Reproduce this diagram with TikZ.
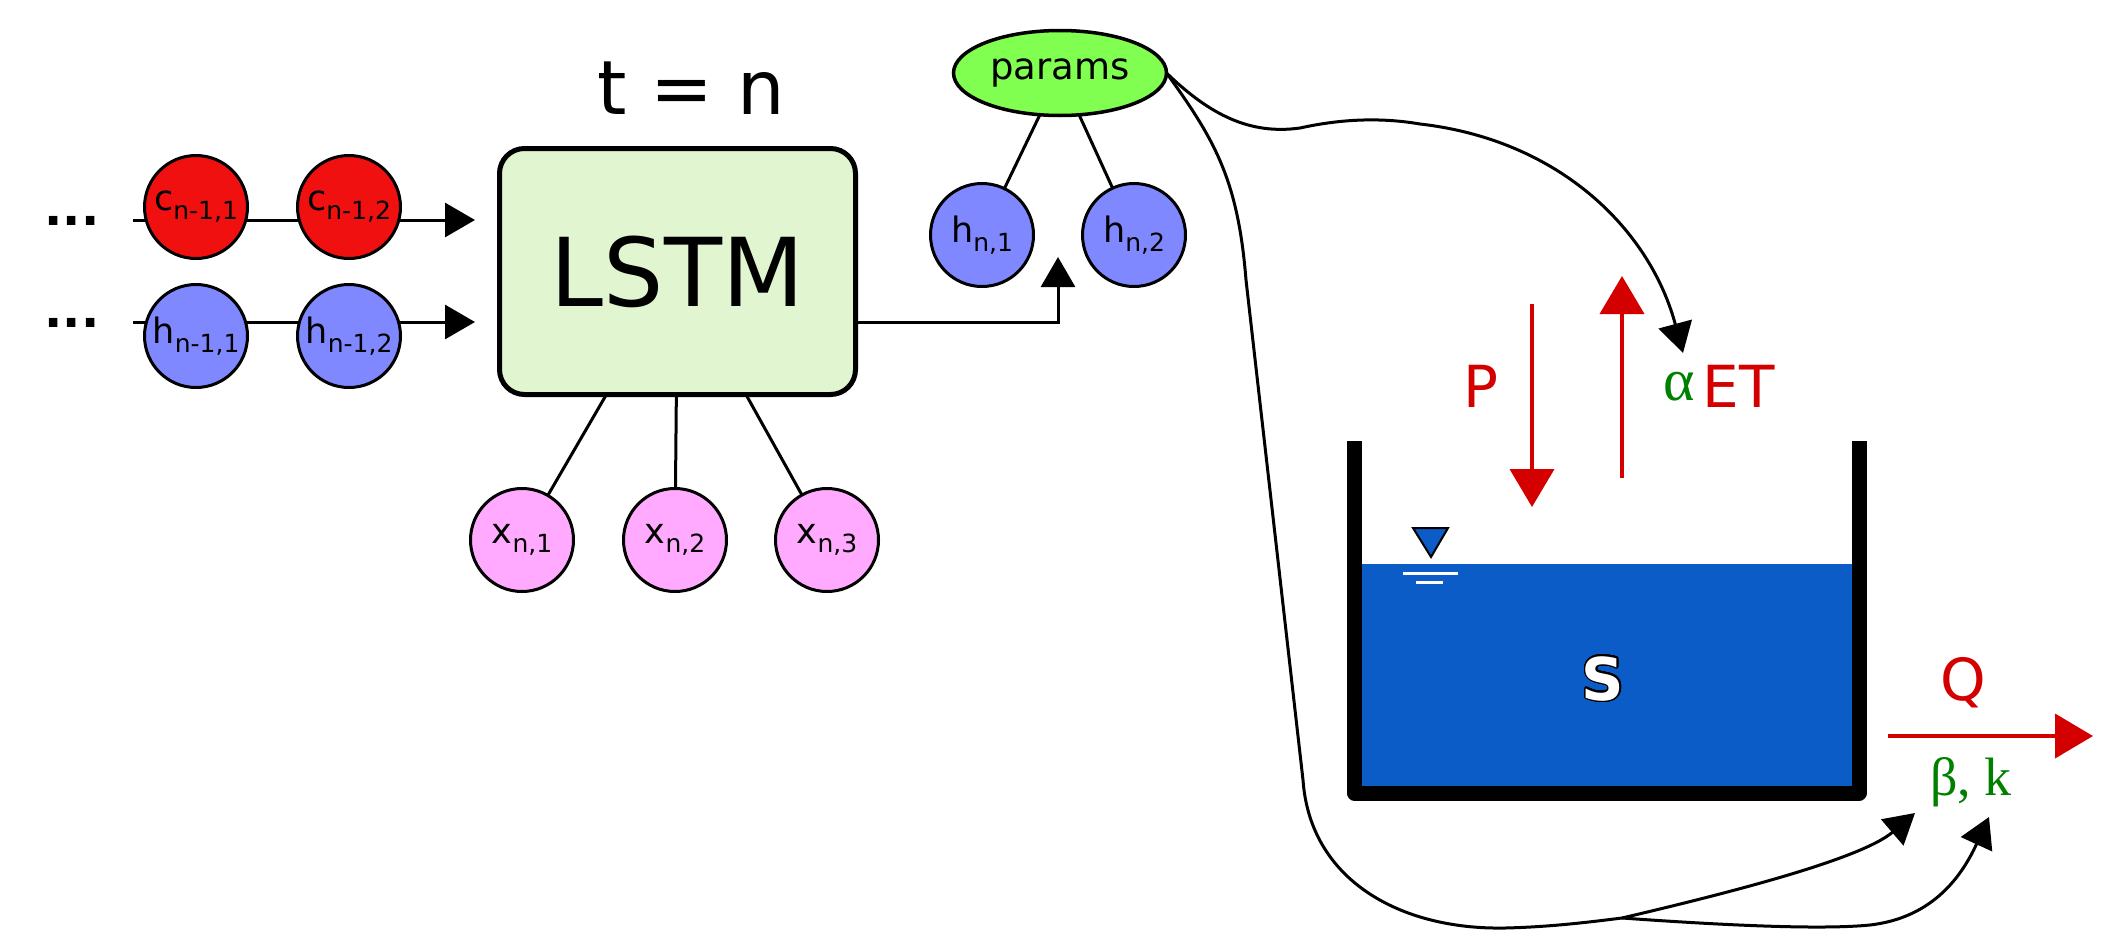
\documentclass[tikz,border=0pt]{standalone}
\usepackage{fontspec}
\setmainfont{DejaVu Sans}
\newfontfamily\serifgr{Liberation Serif}
\usepackage{contour}
\contourlength{1.3pt}
\contournumber{32}
\usetikzlibrary{arrows.meta,shapes.geometric}
\definecolor{cred}{HTML}{F01010}
\definecolor{hblue}{HTML}{8088FF}
\definecolor{xpink}{HTML}{FFAAFF}
\definecolor{pgreen}{HTML}{80FF50}
\definecolor{lstmfill}{HTML}{E0F5D0}
\definecolor{water}{HTML}{0B5CC7}
\definecolor{fluxred}{HTML}{D40000}
\definecolor{pargreen}{HTML}{008000}
\newcommand\lsub[1]{{\fontsize{25}{25}\selectfont\raisebox{-9pt}{#1}}}
\begin{document}
\begin{tikzpicture}[x=1pt,y=-1pt,
  every node/.style={inner sep=0pt, outer sep=0pt},
  unit/.style={circle, draw=black, line width=3pt, minimum size=103pt, font=\fontsize{35}{35}\selectfont},
  cnode/.style={unit, fill=cred},
  hnode/.style={unit, fill=hblue},
  xnode/.style={unit, fill=xpink},
  link/.style={draw=black, line width=3pt},
  arr/.style={link, -{Triangle[length=30pt,width=34pt]}},
  flux/.style={draw=fluxred, line width=4pt, -{Triangle[length=38pt,width=44pt]}},
  fluxtext/.style={text=fluxred, font=\fontsize{58}{58}\selectfont, anchor=base},
  partext/.style={text=pargreen, font=\serifgr\fontsize{54}{54}\selectfont, anchor=base},
  dotstext/.style={font=\bfseries\fontsize{48}{48}\selectfont, anchor=base},
]
\useasboundingbox (0,0) rectangle (2101,945);

% ---- recurrent inputs ----
\coordinate (cstart) at (133,220);
\coordinate (cend) at (475,220);
\coordinate (hstart) at (133,322);
\coordinate (hend) at (475,322);
\draw[arr] (cstart) -- (cend);
\draw[arr] (hstart) -- (hend);
\node[dotstext] (dotsc) at (72,225) {...};
\node[dotstext] (dotsh) at (72,327) {...};
\node[cnode] (c1) at (196,207) {c\lsub{n-1,1}};
\node[cnode] (c2) at (349,207) {c\lsub{n-1,2}};
\node[hnode] (h1) at (196,336) {h\lsub{n-1,1}};
\node[hnode] (h2) at (349,336) {h\lsub{n-1,2}};

% ---- LSTM ----
\node[draw=black, line width=5pt, fill=lstmfill, rounded corners=25pt,
      minimum width=356pt, minimum height=246pt,
      font=\fontsize{95}{95}\selectfont] (lstm) at (677.5,271.5) {LSTM};
\node[font=\fontsize{75}{75}\selectfont, anchor=base] (tn) at (691,114) {t = n};

\node[xnode] (x1) at (522,540) {x\lsub{n,1}};
\node[xnode] (x2) at (675,540) {x\lsub{n,2}};
\node[xnode] (x3) at (827,540) {x\lsub{n,3}};
\draw[link] (lstm) -- (x1);
\draw[link] (lstm) -- (x2);
\draw[link] (lstm) -- (x3);

% ---- outputs ----
\node[ellipse, draw=black, line width=3.5pt, fill=pgreen, minimum width=213pt,
      minimum height=85pt, font=\fontsize{37}{37}\selectfont] (params) at (1060,73) {params};
\node[hnode] (hn1) at (982,235) {h\lsub{n,1}};
\node[hnode] (hn2) at (1134,235) {h\lsub{n,2}};
\draw[link] (params) -- (hn1);
\draw[link] (params) -- (hn2);
\coordinate (hnend) at (1058,257);
\draw[arr] (lstm.east |- 0,322) -| (hnend);

% ---- bucket ----
\fill[water] (1362,564) rectangle (1852,786);
\draw[line width=15pt, line join=round] (1354.5,441) -- (1354.5,793) -- (1859,793) -- (1859,441);
\filldraw[fill=water, draw=black, line width=2pt] (1413,528) -- (1448,528) -- (1431,557) -- cycle;
\draw[white, line width=3pt] (1403,573) -- (1458,573);
\draw[white, line width=3pt] (1416,582) -- (1443,582);
\node[font=\bfseries\fontsize{59}{59}\selectfont, anchor=base] (S) at (1603,700) {\contour{black}{\textcolor{white}{S}}};

% ---- fluxes ----
\coordinate (Ptop) at (1532,304);
\coordinate (Pbot) at (1532,507);
\coordinate (ETbot) at (1622,478);
\coordinate (ETtop) at (1622,276);
\coordinate (Qleft) at (1888,736);
\coordinate (Qright) at (2093,736);
\draw[flux] (Ptop) -- (Pbot);
\draw[flux] (ETbot) -- (ETtop);
\draw[flux] (Qleft) -- (Qright);
\node[fluxtext] (P) at (1481,407) {P};
\node[partext, font=\serifgr\fontsize{60}{60}\selectfont] (alpha) at (1679,400) {α};
\node[fluxtext] (ET) at (1739,407) {ET};
\node[fluxtext] (Q) at (1963,700) {Q};
\node[partext] (betak) at (1971,795) {β, k};

% ---- parameter connectors ----
\coordinate (alphatip) at (1683,353);
\coordinate (split) at (1622,918);
\coordinate (betatip) at (1915,813);
\coordinate (ktip) at (1989,817);
\draw[arr] (params.east) .. controls (1210,115) and (1250,135) .. (1300,128)
  .. controls (1345,118) and (1385,118) .. (1420,124)
  .. controls (1560,140) and (1650,230) .. (alphatip);
\draw[arr] (params.east) .. controls (1215,140) and (1238,180) .. (1246,280)
  -- (1303,780) .. controls (1310,880) and (1400,930) .. (1505,928)
  .. controls (1550,927) and (1590,922) .. (split)
  .. controls (1720,895) and (1860,860) .. (betatip);
\draw[arr] (split) .. controls (1720,925) and (1820,930) .. (1870,925)
  .. controls (1930,918) and (1960,880) .. (ktip);
\end{tikzpicture}
\end{document}
